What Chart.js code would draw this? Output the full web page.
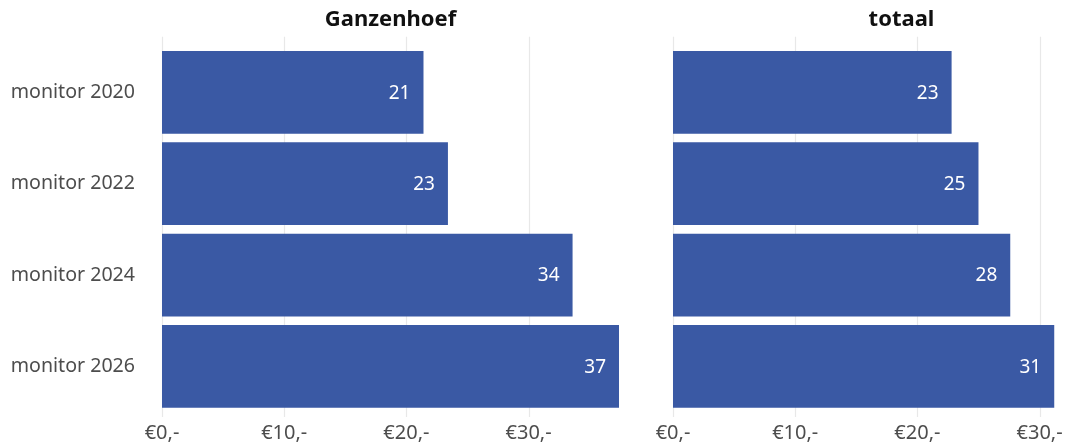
<!DOCTYPE html>
<html>
<head>
<meta charset="utf-8">
<script src="https://cdn.jsdelivr.net/npm/chart.js@4.4.1/dist/chart.umd.min.js"></script>
<style>
    html, body { margin: 0; padding: 0; background: #fff; overflow: hidden; }
    #wrap { position: relative; width: 1067px; height: 445px; overflow: hidden; }
    .panel { position: absolute; top: 0; height: 445px; }
    #leftPanel { left: 0; width: 640px; }
    #rightPanel { left: 640px; width: 510px; }
</style>
</head>
<body>
<div id="wrap">
    <div class="panel" id="leftPanel"><canvas id="ganzenhoefChart"></canvas></div>
    <div class="panel" id="rightPanel"><canvas id="totaalChart"></canvas></div>
</div>
<script>
// data
const categories = ['monitor 2020', 'monitor 2022', 'monitor 2024', 'monitor 2026'];
const ganzenhoefValues = [21.4, 23.4, 33.6, 37.4];
const totaalValues = [22.8, 25.0, 27.6, 31.2];
const panelTitles = ['Ganzenhoef', 'totaal'];
const xTicks = [0, 10, 20, 30];

// shared x scale, like facets with fixed scales
const xMax = Math.max(...ganzenhoefValues, ...totaalValues);

const BAR_COLOR = '#3a59a4';
const FONT = "'Noto Sans', 'DejaVu Sans', sans-serif";

Chart.defaults.font.family = FONT;
Chart.defaults.animation = false;

// vertical grid lines, a bit taller than the bar area
const gridPlugin = {
    id: 'panelGrid',
    beforeDatasetsDraw(chart) {
        const { ctx, chartArea, scales } = chart;
        ctx.save();
        ctx.strokeStyle = '#e8e8e8';
        ctx.lineWidth = 1.2;
        xTicks.forEach(v => {
            const x = Math.round(scales.x.getPixelForValue(v)) + 0.5;
            ctx.beginPath();
            ctx.moveTo(x, chartArea.top - 10);
            ctx.lineTo(x, chartArea.bottom + 5);
            ctx.stroke();
        });
        ctx.restore();
    }
};

// value labels inside the bar end + panel title
const labelPlugin = {
    id: 'panelLabels',
    afterDatasetsDraw(chart, args, opts) {
        const { ctx, chartArea } = chart;
        const meta = chart.getDatasetMeta(0);
        ctx.save();
        ctx.font = '19px ' + FONT;
        ctx.fillStyle = '#ffffff';
        ctx.textAlign = 'right';
        ctx.textBaseline = 'middle';
        meta.data.forEach((bar, i) => {
            const v = chart.data.datasets[0].data[i];
            ctx.fillText(String(Math.round(v)), bar.x - 13, bar.y + 1);
        });

        ctx.font = 'bold 22px ' + FONT;
        ctx.fillStyle = '#111111';
        ctx.textAlign = 'center';
        ctx.fillText(opts.title, (chartArea.left + chartArea.right) / 2, 20);
        ctx.restore();
    }
};

function makePanel(canvasId, values, title, showCategories, padding) {
    const ctx = document.getElementById(canvasId).getContext('2d');
    return new Chart(ctx, {
        type: 'bar',
        data: {
            labels: categories,
            datasets: [{
                data: values,
                backgroundColor: BAR_COLOR,
                borderWidth: 0,
                categoryPercentage: 1,
                barPercentage: 0.906
            }]
        },
        options: {
            indexAxis: 'y',
            responsive: true,
            maintainAspectRatio: false,
            layout: { padding: padding },
            plugins: {
                legend: { display: false },
                tooltip: { enabled: false },
                panelLabels: { title: title }
            },
            scales: {
                x: {
                    type: 'linear',
                    min: 0,
                    max: xMax,
                    grid: { display: false, drawTicks: false },
                    border: { display: false },
                    afterFit: s => { s.height = 33; },
                    ticks: {
                        stepSize: 10,
                        includeBounds: false,
                        padding: 9,
                        color: '#4d4d4d',
                        font: { size: 20 },
                        maxRotation: 0,
                        callback: v => '€' + v + ',-'
                    }
                },
                y: {
                    display: showCategories,
                    grid: { display: false, drawTicks: false },
                    border: { display: false },
                    afterFit: s => {
                        if (showCategories) s.width = 162;
                        s.paddingTop = 0;
                        s.paddingBottom = 0;
                    },
                    ticks: {
                        padding: 27,
                        color: '#4d4d4d',
                        font: { size: 19.6 }
                    }
                }
            }
        },
        plugins: [gridPlugin, labelPlugin]
    });
}

makePanel('ganzenhoefChart', ganzenhoefValues, panelTitles[0], true,
    { top: 46.7, right: 21, bottom: 0, left: 0 });
makePanel('totaalChart', totaalValues, panelTitles[1], false,
    { top: 46.7, right: 20, bottom: 0, left: 33 });
</script>
</body>
</html>
